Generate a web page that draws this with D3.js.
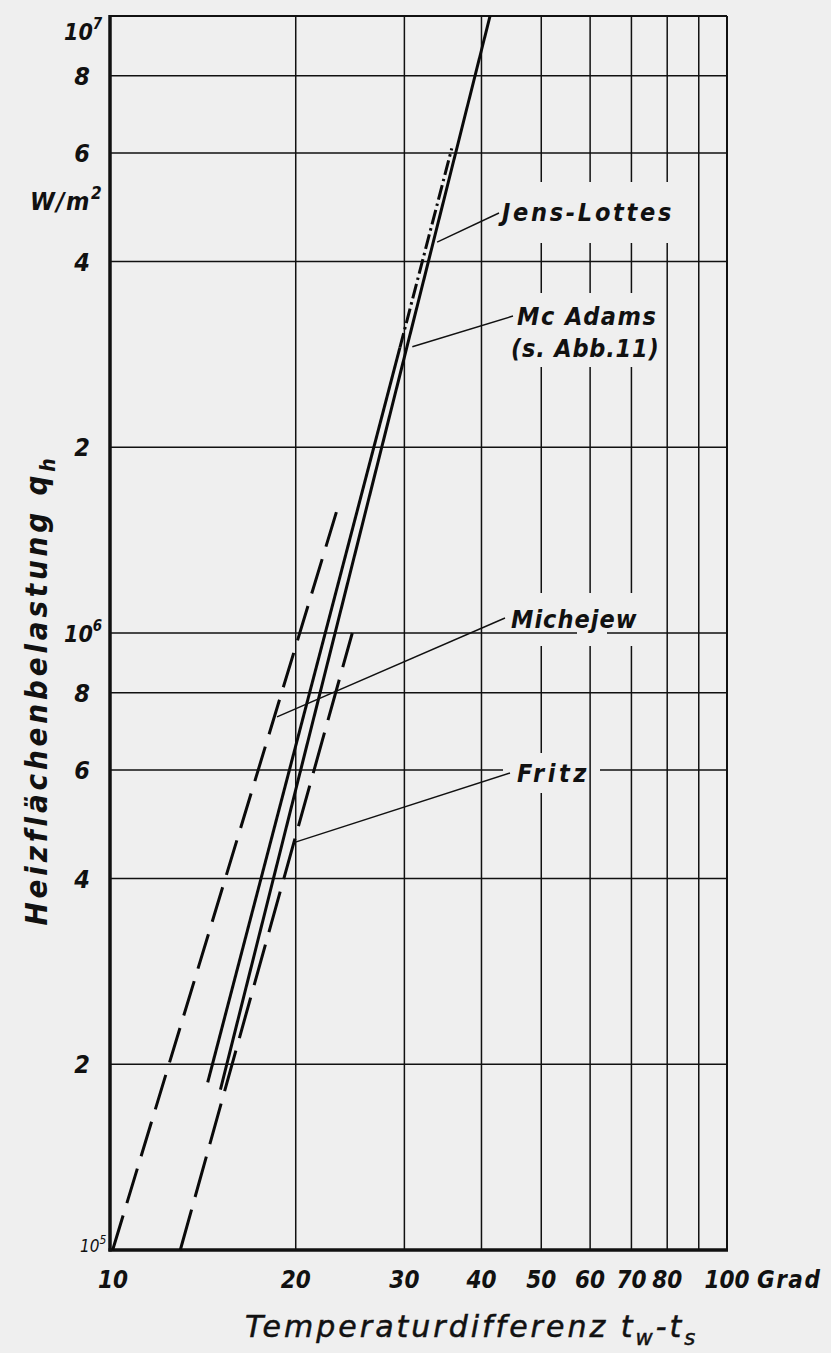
<!DOCTYPE html>
<html>
<head>
<meta charset="utf-8">
<script src="https://cdn.jsdelivr.net/npm/d3@7"></script>
<style>
  html, body { margin: 0; padding: 0; background: #efefef; }
  svg { display: block; }
  text { font-family: "DejaVu Sans", sans-serif; font-style: italic; fill: #111; }
  text.cond { font-family: "DejaVu Sans Condensed", "DejaVu Sans", sans-serif; }
</style>
</head>
<body>
<svg id="chart" width="831" height="1353"></svg>
<script>
// Grid and tick values (temperature difference in Grad, heat flux in W/m²)
const xGridValues = [20, 30, 40, 50, 60, 70, 80, 90];
const yGridValues = [2e5, 4e5, 6e5, 8e5, 1e6, 2e6, 4e6, 6e6, 8e6];
const xTickValues = [10, 20, 30, 40, 50, 60, 70, 80, 100];
const yTickValues = [2e5, 4e5, 6e5, 8e5, 2e6, 4e6, 6e6, 8e6];
const yDecadeValues = [1e5, 1e6, 1e7];

// Boiling correlations, end points as [Δt in Grad, q in W/m²]
const mcAdams           = [[15.1, 1.82e5], [41.3, 1.0e7]];
const jensLottesSolid   = [[14.4, 1.87e5], [29.5, 2.9e6]];
const jensLottesDashDot = [[29.5, 2.9e6], [35.8, 6.1e6]];
const michejew          = [[10.1, 1.0e5], [23.5, 1.62e6]];
const fritz             = [[13.0, 1.0e5], [24.7, 1.0e6]];

// Points on the curves that the label leaders touch [Δt, q]
const leaderTargets = {
  "Jens-Lottes": [33.9, 4.30e6],
  "Mc Adams":    [30.9, 2.91e6],
  "Michejew":    [18.65, 7.31e5],
  "Fritz":       [19.8, 4.57e5]
};

const W = 831, H = 1353;
const plotL = 110, plotR = 727, plotT = 16, plotB = 1250;

const x = d3.scaleLog().domain([10, 100]).range([plotL, plotR]);
const y = d3.scaleLog().domain([1e5, 1e7]).range([plotB, plotT]);

const svg = d3.select("#chart");
svg.append("rect").attr("width", W).attr("height", H).attr("fill", "#efefef");

// Label layout: text anchor, leader start, and boxes where the grid is interrupted
const labels = [
  { key: "Jens-Lottes", rows: [{ t: "Jens-Lottes", x: 502, y: 221, ls: 2.7 }], from: [499, 213],
    vcut: [495, 182, 680, 243], hcut: null },
  { key: "Mc Adams", rows: [{ t: "Mc Adams", x: 517, y: 325, ls: 1.5 }, { t: "(s. Abb.11)", x: 511, y: 357, ls: 0.8 }], from: [513, 316],
    vcut: [505, 293, 660, 367], hcut: null },
  { key: "Michejew", rows: [{ t: "Michejew", x: 511, y: 628, ls: 1.0 }], from: [505, 618],
    vcut: [505, 593, 640, 646], hcut: [577, 626, 607, 641] },
  { key: "Fritz", rows: [{ t: "Fritz", x: 517, y: 782, ls: 3.5 }], from: [510, 773],
    vcut: [512, 753, 588, 793], hcut: [503, 760, 600, 781] }
];

const defs = svg.append("defs");
function makeMask(id, key) {
  const m = defs.append("mask").attr("id", id)
    .attr("maskUnits", "userSpaceOnUse")
    .attr("x", 0).attr("y", 0).attr("width", W).attr("height", H);
  m.append("rect").attr("width", W).attr("height", H).attr("fill", "white");
  labels.filter(d => d[key]).forEach(d => {
    const [x0, y0, x1, y1] = d[key];
    m.append("rect").attr("x", x0).attr("y", y0)
      .attr("width", x1 - x0).attr("height", y1 - y0).attr("fill", "black");
  });
}
makeMask("cutV", "vcut");
makeMask("cutH", "hcut");

// Grid
svg.append("g").attr("mask", "url(#cutV)")
  .selectAll("line").data(xGridValues).join("line")
  .attr("x1", d => x(d)).attr("x2", d => x(d))
  .attr("y1", plotT).attr("y2", plotB)
  .attr("stroke", "#111").attr("stroke-width", 1.5);

svg.append("g").attr("mask", "url(#cutH)")
  .selectAll("line").data(yGridValues).join("line")
  .attr("x1", plotL).attr("x2", plotR)
  .attr("y1", d => y(d)).attr("y2", d => y(d))
  .attr("stroke", "#111").attr("stroke-width", 1.5);

// Frame: heavy left and bottom axes, lighter top and right edges
svg.append("line").attr("x1", plotL).attr("x2", plotR).attr("y1", plotT).attr("y2", plotT)
  .attr("stroke", "#111").attr("stroke-width", 2);
svg.append("line").attr("x1", plotR).attr("x2", plotR).attr("y1", plotT).attr("y2", plotB)
  .attr("stroke", "#111").attr("stroke-width", 2);
svg.append("line").attr("x1", plotL).attr("x2", plotL).attr("y1", plotT - 1).attr("y2", plotB + 1.5)
  .attr("stroke", "#111").attr("stroke-width", 3.5);
svg.append("line").attr("x1", plotL - 1.5).attr("x2", plotR + 1).attr("y1", plotB).attr("y2", plotB)
  .attr("stroke", "#111").attr("stroke-width", 3.5);

// Curves
const line = d3.line().x(d => x(d[0])).y(d => y(d[1]));
const curves = [
  { data: michejew, dash: "36,13" },
  { data: fritz, dash: "42,13" },
  { data: jensLottesSolid, dash: null },
  { data: jensLottesDashDot, dash: "15,4,2.5,4" },
  { data: mcAdams, dash: null }
];
svg.append("g").selectAll("path").data(curves).join("path")
  .attr("d", d => line(d.data))
  .attr("fill", "none")
  .attr("stroke", "#0a0a0a")
  .attr("stroke-width", 3)
  .attr("stroke-dasharray", d => d.dash);

// Labels and leaders
labels.forEach(lb => {
  const [tx, tq] = leaderTargets[lb.key];
  svg.append("line")
    .attr("x1", lb.from[0]).attr("y1", lb.from[1])
    .attr("x2", x(tx)).attr("y2", y(tq))
    .attr("stroke", "#111").attr("stroke-width", 1.4);
  lb.rows.forEach(r => {
    svg.append("text").attr("class", "cond").attr("x", r.x).attr("y", r.y)
      .attr("font-size", 25).attr("font-weight", "bold").attr("letter-spacing", r.ls)
      .text(r.t);
  });
});

// Y tick labels
svg.append("g").selectAll("text").data(yTickValues).join("text")
  .attr("class", "cond")
  .attr("x", 90).attr("y", d => y(d) + 9)
  .attr("text-anchor", "end").attr("font-size", 25).attr("font-weight", "bold")
  .text(d => String(Math.round(d / Math.pow(10, Math.floor(Math.log10(d) + 1e-9)))));

const decadeLayout = { 1e7: { x: 64, y: 40 }, 1e6: { x: 64, y: 642 }, 1e5: { x: 80, y: 1252 } };
yDecadeValues.forEach(v => {
  const p = decadeLayout[v];
  const small = v === 1e5;
  const t = svg.append("text").attr("class", "cond").attr("x", p.x).attr("y", p.y)
    .attr("font-size", small ? 17 : 23).attr("font-weight", small ? "normal" : "bold");
  t.append("tspan").text("10");
  t.append("tspan").attr("dy", small ? -8 : -11).attr("font-size", small ? 12 : 15)
    .text(String(Math.round(Math.log10(v))));
});

// Unit
const unit = svg.append("text").attr("class", "cond").attr("x", 30).attr("y", 210).attr("font-size", 25)
  .attr("font-weight", "bold").attr("letter-spacing", 1.5);
unit.append("tspan").text("W/m");
unit.append("tspan").attr("dy", -11).attr("font-size", 17).text("2");

// X tick labels
svg.append("g").selectAll("text").data(xTickValues).join("text")
  .attr("class", "cond")
  .attr("x", d => x(d) + (d === 10 ? 3 : 0)).attr("y", 1288)
  .attr("text-anchor", "middle").attr("font-size", 24).attr("font-weight", "bold")
  .text(d => d);
svg.append("text").attr("class", "cond").attr("x", 757).attr("y", 1288).attr("font-size", 24)
  .attr("font-weight", "bold").attr("letter-spacing", 1.5).text("Grad");

// Axis titles
const xt = svg.append("text").attr("x", 245).attr("y", 1337).attr("font-size", 30)
  .attr("letter-spacing", 3.0).attr("stroke", "#111").attr("stroke-width", 0.5);
xt.append("tspan").text("Temperaturdifferenz  t");
xt.append("tspan").attr("dy", 8).attr("font-size", 21).text("w");
xt.append("tspan").attr("dy", -8).text("-t");
xt.append("tspan").attr("dy", 8).attr("font-size", 21).text("s");

const yt = svg.append("text").attr("class", "cond").attr("transform", "translate(47,690) rotate(-90)")
  .attr("text-anchor", "middle").attr("font-size", 31).attr("font-weight", "bold").attr("letter-spacing", 3.8);
yt.append("tspan").text("Heizflächenbelastung  q");
yt.append("tspan").attr("dy", 8).attr("font-size", 21).text("h");
</script>
</body>
</html>
